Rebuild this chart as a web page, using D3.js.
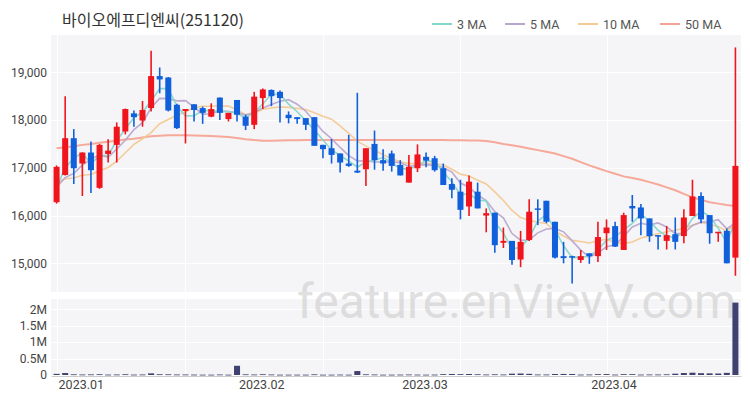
<!DOCTYPE html>
<html><head><meta charset="utf-8">
<script src="https://cdn.jsdelivr.net/npm/d3@7"></script>
<style>
html,body{margin:0;padding:0;background:#fff;}
svg{display:block;font-family:"Noto Sans CJK KR","Noto Sans",sans-serif;}
</style></head>
<body><svg id="c" width="750" height="400"></svg>
<script>
const title = "바이오에프디엔씨(251120)";
const dates = ["2023-01-02","2023-01-03","2023-01-04","2023-01-05","2023-01-06","2023-01-09","2023-01-10","2023-01-11","2023-01-12","2023-01-13",
"2023-01-16","2023-01-17","2023-01-18","2023-01-19","2023-01-20","2023-01-25","2023-01-26","2023-01-27","2023-01-30","2023-01-31",
"2023-02-01","2023-02-02","2023-02-03","2023-02-06","2023-02-07","2023-02-08","2023-02-09","2023-02-10","2023-02-13","2023-02-14",
"2023-02-15","2023-02-16","2023-02-17","2023-02-20","2023-02-21","2023-02-22","2023-02-23","2023-02-24","2023-02-27","2023-02-28",
"2023-03-02","2023-03-03","2023-03-06","2023-03-07","2023-03-08","2023-03-09","2023-03-10","2023-03-13","2023-03-14","2023-03-15",
"2023-03-16","2023-03-17","2023-03-20","2023-03-21","2023-03-22","2023-03-23","2023-03-24","2023-03-27","2023-03-28","2023-03-29",
"2023-03-30","2023-03-31","2023-04-03","2023-04-04","2023-04-05","2023-04-06","2023-04-07","2023-04-10","2023-04-11","2023-04-12",
"2023-04-13","2023-04-14","2023-04-17","2023-04-18","2023-04-19","2023-04-20","2023-04-21","2023-04-24","2023-04-25","2023-04-26"];
const opens = [16280,16850,17620,17090,17320,16580,17290,17480,17760,18140,17990,18250,18920,18890,18320,18190,18330,18250,18070,18470,
18020,18420,18070,17900,18460,18630,18590,18110,18060,18040,18060,17480,17410,17300,17090,16940,16970,17500,17160,17300,
17060,16690,16990,17230,17200,16990,16660,16500,16190,16500,16000,16060,15430,15470,15080,15490,16150,16310,15870,15150,
15150,15070,15210,15150,15630,15780,15280,16200,16170,15940,15590,15470,15610,15570,15990,16410,16010,15630,15680,15120];
const highs = [17050,18500,17810,17320,17550,17500,17600,17950,18240,18200,18400,19450,19100,18900,18340,18230,18330,18280,18350,18470,
18150,18420,18110,18590,18660,18640,18620,18180,18060,18040,18060,17480,17600,17300,17690,18570,17410,17780,17390,17360,
17160,17270,17490,17320,17250,17090,16780,16750,16840,16690,16150,16060,15750,15470,15680,16340,16340,16310,15870,15450,
15160,15280,15210,15870,15920,15870,16060,16430,16240,15940,15590,15780,15960,16130,16750,16490,16010,15660,15730,19520];
const lows = [16250,16840,16660,16410,16470,16560,17110,17110,17700,17860,17860,18180,18560,18180,17810,17510,17970,17920,18060,18000,
17970,17970,17790,17810,18230,18290,17950,17930,17920,17790,17460,17200,17090,16900,17020,16890,16620,16960,16940,16920,
16840,16690,16910,17010,16920,16640,16360,15920,15990,16150,15650,15220,15320,14970,14920,15470,15800,15840,15100,15000,
14580,15010,14990,15030,15280,15340,15280,15870,15590,15450,15290,15290,15290,15420,15990,15840,15410,15450,15000,14740];
const closes = [17020,17620,16990,17320,16950,17480,17360,17860,18230,18060,18210,18920,18850,18200,17830,18230,18210,18150,18230,18150,
18150,18110,17880,18490,18640,18500,18460,18040,18020,17900,17460,17390,17270,17110,17040,16900,17410,17160,17090,17040,
16840,17020,17280,17150,16950,16640,16540,16120,16710,16150,16050,15380,15470,15070,15450,16080,16120,15870,15120,15110,
15130,15150,15150,15550,15750,15350,16010,16150,15940,15570,15560,15590,15450,15960,16400,15920,15630,15660,15000,17040];
const volumes = [35000,60000,20000,15000,18000,22000,12000,15000,22000,12000,15000,50000,22000,20000,15000,15000,12000,10000,10000,15000,
10000,280000,20000,15000,22000,15000,10000,10000,10000,10000,20000,10000,10000,12000,10000,120000,20000,15000,10000,10000,
12000,15000,12000,10000,12000,25000,30000,25000,30000,22000,15000,20000,15000,40000,45000,35000,15000,15000,30000,32000,
30000,12000,15000,25000,28000,12000,25000,25000,12000,15000,15000,20000,40000,60000,70000,55000,50000,45000,65000,2200000];
// closes of the last trading days of 2022, estimated from where the short averages start
const prevCloses = [16900,16850,16750,16800,16700,16650,16550,16450,16330];
// 50-day average
const ma50 = [17410,17430,17450,17480,17500,17525,17547,17565,17590,17610,17635,17660,17672,17680,17680,17680,17675,17670,17665,17655,
17645,17625,17600,17580,17565,17565,17570,17575,17575,17580,17580,17580,17580,17580,17580,17580,17580,17580,17580,17580,
17580,17580,17580,17580,17580,17580,17575,17575,17570,17570,17560,17535,17500,17470,17440,17405,17370,17335,17300,17245,
17190,17120,17050,16990,16930,16875,16820,16785,16750,16700,16650,16590,16530,16455,16380,16330,16280,16250,16220,16200];
const priceTicks = [15000,16000,17000,18000,19000];
const volTicks = [0,500000,1000000,1500000,2000000];
const volTickLabels = ["0","0.5M","1M","1.5M","2M"];
const monthTicks = ["2023-01-02","2023-02-02","2023-03-02","2023-04-03"];
const monthLabels = ["2023.01","2023.02","2023.03","2023.04"];
const gridDates = ["2023-01-02","2023-01-25","2023-02-16","2023-03-13","2023-04-05"];
const maNames = ["3 MA","5 MA","10 MA","50 MA"];
const maColors = ["#86d6cc","#b9a6cf","#f3c994","#f5a394"];

const svg = d3.select("#c");
const L = 51, R = 741;
const pTop = 35, pBot = 292, vTop = 299, vBot = 376;

const x = d3.scaleBand().domain(dates).range([L, R]).padding(0.3);
const cx = d => x(d) + x.bandwidth()/2;
const y = d3.scaleLinear().domain([14400, 19780]).range([pBot, pTop]);
const yv = d3.scaleLinear().domain([0, 2310000]).range([vBot - 1, vTop]);

// backgrounds
svg.append("rect").attr("x", L).attr("y", pTop).attr("width", R - L).attr("height", pBot - pTop).attr("fill", "#f5f5f7");
svg.append("rect").attr("x", L).attr("y", vTop).attr("width", R - L).attr("height", vBot - vTop).attr("fill", "#f5f5f7");

// gridlines
const g = svg.append("g").attr("stroke", "#ffffff").attr("stroke-width", 1);
priceTicks.forEach(t => g.append("line").attr("x1", L).attr("x2", R).attr("y1", Math.round(y(t)) + 0.5).attr("y2", Math.round(y(t)) + 0.5));
volTicks.forEach(t => g.append("line").attr("x1", L).attr("x2", R).attr("y1", Math.round(yv(t)) + 0.5).attr("y2", Math.round(yv(t)) + 0.5));
gridDates.forEach(d => {
  g.append("line").attr("x1", Math.round(cx(d)) + 0.5).attr("x2", Math.round(cx(d)) + 0.5).attr("y1", pTop).attr("y2", pBot);
  g.append("line").attr("x1", Math.round(cx(d)) + 0.5).attr("x2", Math.round(cx(d)) + 0.5).attr("y1", vTop).attr("y2", vBot);
});

// watermark
svg.append("text").attr("x", 736).attr("y", 318).attr("text-anchor", "end")
  .attr("font-family", "Roboto, 'Noto Sans', sans-serif").attr("font-size", 48)
  .attr("fill", "#d2d2d2").attr("fill-opacity", 0.7).text("feature.enVievV.com");

// axes labels
const yAxis = d3.axisLeft(y).tickValues(priceTicks).tickFormat(d3.format(",")).tickSize(0).tickPadding(4);
const ya = svg.append("g").attr("transform", `translate(${L},0)`).call(yAxis);
const yvAxis = d3.axisLeft(yv).tickValues(volTicks).tickFormat((d, i) => volTickLabels[i]).tickSize(0).tickPadding(4);
const yva = svg.append("g").attr("transform", `translate(${L},0)`).call(yvAxis);
[ya, yva].forEach(a => {
  a.select(".domain").remove();
  a.selectAll("text").attr("fill", "#444").attr("font-size", 12).attr("font-family", "Roboto, 'Noto Sans', sans-serif");
});
const xAxis = d3.axisBottom(x).tickValues(monthTicks).tickFormat((d, i) => monthLabels[i]).tickSize(0).tickPadding(4);
const xa = svg.append("g").attr("transform", `translate(0,${vBot})`).call(xAxis);
xa.select(".domain").attr("stroke", "#cccccc");
xa.selectAll("text").attr("fill", "#444").attr("font-size", 12.5).attr("font-family", "Roboto, 'Noto Sans', sans-serif")
  .attr("text-anchor", "start").attr("dx", 2);

// volume bars
svg.append("g").selectAll("rect").data(volumes).join("rect")
  .attr("x", (v, i) => x(dates[i])).attr("width", x.bandwidth())
  .attr("y", v => yv(v)).attr("height", v => Math.max(0.8, (vBot - 1) - yv(v)))
  .attr("fill", "#3f4170");

// moving averages
const all = prevCloses.concat(closes);
function sma(n) {
  return closes.map((c, i) => {
    const j = i + prevCloses.length;
    return d3.mean(all.slice(j - n + 1, j + 1));
  });
}
const maSeries = [sma(3), sma(5), sma(10), ma50];
const line = d3.line().x((v, i) => cx(dates[i])).y(v => y(v));
const maG = svg.append("g");
[3,2,1,0].forEach(k => {
  maG.append("path").attr("d", line(maSeries[k])).attr("fill", "none")
    .attr("stroke", maColors[k]).attr("stroke-width", k === 3 ? 2 : 1.6).attr("stroke-opacity", 0.95);
});

// candles
const up = "#f0141c", down = "#1060dc";
const cg = svg.append("g");
dates.forEach((d, i) => {
  const o = opens[i], c = closes[i], h = highs[i], l = lows[i];
  const col = c >= o ? up : down;
  cg.append("line").attr("x1", cx(d)).attr("x2", cx(d)).attr("y1", y(h)).attr("y2", y(l))
    .attr("stroke", col).attr("stroke-width", 1.6);
  const top = y(Math.max(o, c)), bot = y(Math.min(o, c));
  cg.append("rect").attr("x", x(d)).attr("width", x.bandwidth())
    .attr("y", top).attr("height", Math.max(1.5, bot - top)).attr("fill", col);
});

// title
svg.append("text").attr("x", 62).attr("y", 26).attr("font-size", 16).attr("fill", "#333").text(title);

// legend
const legX = [432, 505, 578, 660];
maNames.forEach((n, i) => {
  svg.append("line").attr("x1", legX[i]).attr("x2", legX[i] + 20).attr("y1", 24).attr("y2", 24)
    .attr("stroke", maColors[i]).attr("stroke-width", 2);
  svg.append("text").attr("x", legX[i] + 25).attr("y", 28.5).attr("font-size", 12.5).attr("fill", "#555")
    .attr("font-family", "Roboto, 'Noto Sans', sans-serif").text(n);
});
</script></body></html>
